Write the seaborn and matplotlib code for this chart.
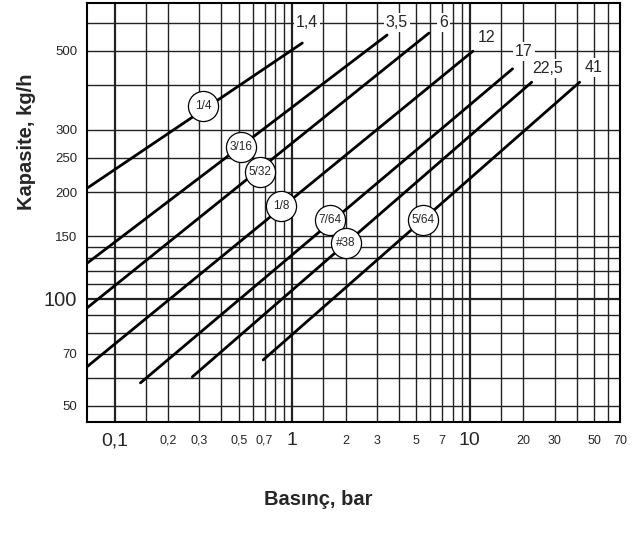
import matplotlib
matplotlib.use("Agg")
import matplotlib.pyplot as plt
import seaborn as sns
import pandas as pd

# Orifis hatlari: baslangic / bitis noktasi (basinc bar, kapasite kg/h)
hat_adi = ["1,4", "3,5", "6", "12", "17", "22,5", "41"]
p_bas = [0.07, 0.07, 0.07, 0.07, 0.14, 0.274, 0.687]
p_son = [1.14, 3.42, 5.88, 10.4, 17.4, 22.3, 41.5]
q_bas = [205, 126, 94.3, 64.4, 58.0, 60.3, 67.3]
q_son = [526, 554, 561, 499, 445, 408, 408]

# hat ucundaki etiketler
etiket_p = [1.21, 3.89, 7.14, 12.5, 20.1, 27.4, 49.7]
etiket_q = [600, 600, 600, 547, 497, 445, 448]

# daire icindeki orifis olculeri
orifis = ["1/4", "3/16", "5/32", "1/8", "7/64", "#38", "5/64"]
orifis_p = [0.316, 0.517, 0.661, 0.867, 1.635, 2.01, 5.44]
orifis_q = [350, 268, 228, 183, 167, 144, 167]

# eksen etiketleri
x_ticks = [0.1, 0.2, 0.3, 0.5, 0.7, 1, 2, 3, 5, 7, 10, 20, 30, 50, 70]
x_labels = ["0,1", "0,2", "0,3", "0,5", "0,7", "1", "2", "3", "5", "7", "10", "20", "30", "50", "70"]
x_minor = [0.15, 0.4, 0.6, 0.8, 0.9, 1.5, 4, 6, 8, 9, 15, 40, 60]
y_ticks = [50, 70, 100, 150, 200, 250, 300, 500]
y_labels = ["50", "70", "100", "150", "200", "250", "300", "500"]
y_minor = [60, 80, 90, 110, 120, 130, 140, 400, 600]

df = pd.DataFrame({
    "hat": hat_adi + hat_adi,
    "basinc": p_bas + p_son,
    "kapasite": q_bas + q_son,
})

sns.set_theme(style="white")
plt.rcParams["font.family"] = ["Liberation Sans", "DejaVu Sans"]

fig = plt.figure(figsize=(6.36, 5.36), dpi=100)
ax = fig.add_axes([0.1368, 0.2127, 0.838, 0.7817])
ax.set_xscale("log")
ax.set_yscale("log")

sns.lineplot(data=df, x="basinc", y="kapasite", units="hat", estimator=None,
             color="black", lw=2.0, legend=False, ax=ax, zorder=3)

ax.set_xlim(0.07, 70)
ax.set_ylim(45, 682)

ax.set_xticks(x_ticks, labels=x_labels)
ax.set_xticks(x_minor, minor=True)
ax.set_yticks(y_ticks, labels=y_labels)
ax.set_yticks(y_minor, minor=True)
ax.xaxis.set_minor_formatter(plt.NullFormatter())
ax.yaxis.set_minor_formatter(plt.NullFormatter())

ax.grid(True, which="both", color="#222222", lw=1.0)
for t in ax.xaxis.get_minor_ticks():
    if abs(t.get_loc() - 60) < 1e-6:
        t.gridline.set_color("#aaaaaa")
for t in ax.xaxis.get_major_ticks() + ax.yaxis.get_major_ticks():
    if t.get_loc() in (0.1, 1, 10, 100):
        t.gridline.set_linewidth(1.6)

ax.tick_params(axis="both", which="both", length=0)
ax.tick_params(axis="x", pad=13.5)
ax.tick_params(axis="y", pad=7)
for lbl in ax.get_xticklabels():
    lbl.set_va("center")
    lbl.set_fontsize(14 if lbl.get_text() in ("0,1", "1", "10") else 9)
for lbl in ax.get_yticklabels():
    lbl.set_fontsize(14.5 if lbl.get_text() == "100" else 9.5)

for s in ax.spines.values():
    s.set_color("black")
    s.set_linewidth(1.5)

for ad, px, qy in zip(hat_adi, etiket_p, etiket_q):
    ax.text(px, qy, ad, ha="center", va="center", fontsize=11.5, zorder=5,
            bbox=dict(facecolor="white", edgecolor="none", pad=1.5))

sns.scatterplot(x=orifis_p, y=orifis_q, s=470, color="white", edgecolor="black",
                linewidth=0.9, ax=ax, zorder=6)
for ad, px, qy in zip(orifis, orifis_p, orifis_q):
    ax.text(px, qy, ad, ha="center", va="center", fontsize=8.5, zorder=7)

ax.set_xlabel("Basınç, bar", fontsize=14.5, fontweight="bold")
ax.set_ylabel("Kapasite, kg/h", fontsize=14.5, fontweight="bold")
ax.xaxis.set_label_coords(0.433, -0.162)
ax.yaxis.set_label_coords(-0.096, 0.668)

fig.savefig("out.png", dpi=100)
